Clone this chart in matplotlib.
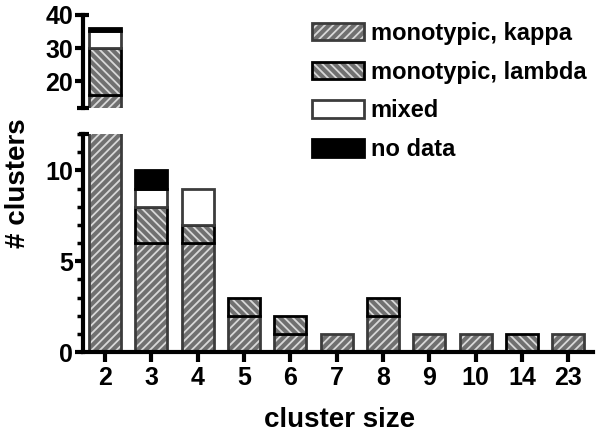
import matplotlib.pyplot as plt
from matplotlib.patches import Patch
from matplotlib.legend_handler import HandlerTuple
import numpy as np

# cluster sizes and number of clusters per category
sizes = ["2", "3", "4", "5", "6", "7", "8", "9", "10", "14", "23"]
kappa = [16, 6, 6, 2, 1, 1, 2, 1, 1, 0, 1]
lambda_ = [14, 2, 1, 1, 1, 0, 1, 0, 0, 1, 0]
mixed = [5, 1, 2, 0, 0, 0, 0, 0, 0, 0, 0]
no_data = [1, 1, 0, 0, 0, 0, 0, 0, 0, 0, 0]

plt.rcParams['font.family'] = ['Liberation Sans', 'DejaVu Sans']
plt.rcParams['font.weight'] = 'bold'
plt.rcParams['hatch.linewidth'] = 1.3

HATCH_BG = '#707070'
HATCH_FG = '#d8d8d8'
EDGE_GRAY = '#3c3c3c'

fig = plt.figure(figsize=(6.01, 4.37), dpi=100)
ax_top = fig.add_axes([0.138, 0.753, 0.849, 0.213])
ax_bot = fig.add_axes([0.138, 0.1945, 0.849, 0.4985])

x = np.arange(len(sizes))
w = 0.69
series = [
    (kappa, '////', HATCH_BG, EDGE_GRAY),
    (lambda_, '\\\\\\\\', HATCH_BG, 'black'),
    (mixed, None, 'white', EDGE_GRAY),
    (no_data, None, 'black', 'black'),
]


def draw(ax):
    bottom = np.zeros(len(sizes))
    for vals, hatch, fc, ec in series:
        vals = np.array(vals, dtype=float)
        lw = np.where(vals > 0, 2.0, 0.0)
        if hatch:
            ax.bar(x, vals, w, bottom=bottom, color=fc, edgecolor=HATCH_FG,
                   hatch=hatch, linewidth=0)
            ax.bar(x, vals, w, bottom=bottom, facecolor='none',
                   edgecolor=ec, linewidth=lw)
        else:
            ax.bar(x, vals, w, bottom=bottom, facecolor=fc,
                   edgecolor=ec, linewidth=lw)
        bottom += vals


for ax in (ax_top, ax_bot):
    draw(ax)
    ax.set_xlim(-0.48, 10.54)
    for s in ('top', 'right'):
        ax.spines[s].set_visible(False)
    ax.spines['left'].set_linewidth(3)
    ax.tick_params(axis='y', direction='out', width=3, length=6,
                   labelsize=18, pad=1)

# top segment
ax_top.set_ylim(12, 40)
ax_top.set_yticks([20, 30, 40])
ax_top.spines['bottom'].set_visible(False)
ax_top.set_xticks([])
ax_top.plot([-0.012, 0.012], [12, 12], transform=ax_top.get_yaxis_transform(),
            color='black', lw=3, clip_on=False, solid_capstyle='butt')
ax_top.plot([0, 0.012], [40, 40], transform=ax_top.get_yaxis_transform(),
            color='black', lw=3, clip_on=False, solid_capstyle='butt')

# bottom segment
ax_bot.set_ylim(0, 12)
ax_bot.set_yticks([0, 5, 10])
ax_bot.set_yticks(range(0, 13), minor=True)
ax_bot.tick_params(axis='y', which='minor', width=2.5, length=4)
ax_bot.plot([-0.008, 0.012], [12, 12], transform=ax_bot.get_yaxis_transform(),
            color='black', lw=3, clip_on=False, solid_capstyle='butt')
ax_bot.spines['bottom'].set_linewidth(3)
ax_bot.set_xticks(x)
ax_bot.set_xticklabels(sizes)
ax_bot.tick_params(axis='x', direction='out', width=3, length=7,
                   labelsize=18, pad=3)

fig.text(0.03, 0.58, '# clusters', rotation=90, ha='center', va='center',
         fontsize=20, fontweight='bold')
fig.text(0.565, 0.04, 'cluster size', ha='center', va='center',
         fontsize=20, fontweight='bold')

# legend
h_kappa = (Patch(facecolor=HATCH_BG, edgecolor=HATCH_FG, hatch='////', linewidth=0),
           Patch(facecolor='none', edgecolor=EDGE_GRAY, linewidth=2))
h_lambda = (Patch(facecolor=HATCH_BG, edgecolor=HATCH_FG, hatch='\\\\\\\\', linewidth=0),
            Patch(facecolor='none', edgecolor='black', linewidth=2))
h_mixed = Patch(facecolor='white', edgecolor=EDGE_GRAY, linewidth=2)
h_nodata = Patch(facecolor='black', edgecolor='black', linewidth=2)
fig.legend([h_kappa, h_lambda, h_mixed, h_nodata],
           ['monotypic, kappa', 'monotypic, lambda', 'mixed', 'no data'],
           handler_map={tuple: HandlerTuple(ndivide=1)},
           loc='upper left', bbox_to_anchor=(0.491, 0.988), frameon=False,
           fontsize=17, handlelength=2.2, handleheight=0.76,
           handletextpad=0.3, labelspacing=0.67, borderpad=0.2)

fig.savefig('out.png', dpi=100)
